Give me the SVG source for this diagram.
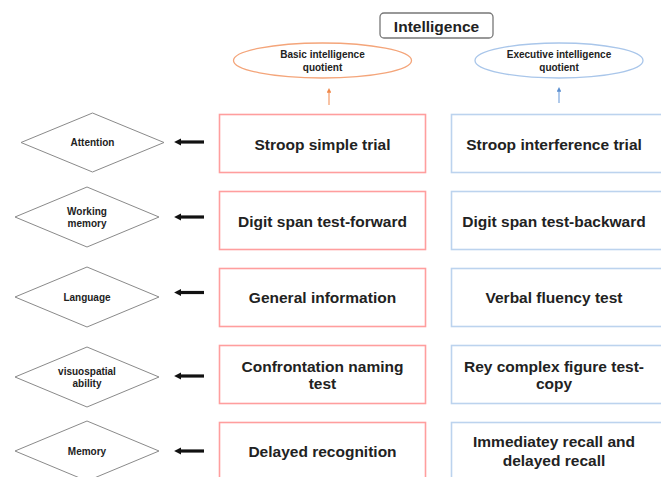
<svg xmlns="http://www.w3.org/2000/svg" width="661" height="477" viewBox="0 0 661 477">
  <style>
    text { font-family: "Liberation Sans", Arial, sans-serif; font-weight: bold; fill: #222; text-anchor: middle; }
    .title { font-size: 15.5px; }
    .quot { font-size: 10px; }
    .dia { fill: #fff; stroke: #8a8a8a; stroke-width: 1; }
    .dlab { font-size: 10px; }
    .basic { fill: #fff; stroke: #ff9e9e; stroke-width: 1.6; }
    .exec { fill: #fff; stroke: #bcd3ee; stroke-width: 1.6; }
    .blab { font-size: 15.5px; }
    .pointer { stroke: #111; stroke-width: 3.2; fill: none; }
  </style>
  <defs>
    <marker id="headBlack" viewBox="0 0 6 6" refX="1" refY="3" markerWidth="2.2" markerHeight="2.2" orient="auto-start-reverse">
      <path d="M0,0 L6,3 L0,6 z" fill="#111"/>
    </marker>
    <marker id="headOrange" viewBox="0 0 6 6" refX="1" refY="3" markerWidth="3" markerHeight="3" orient="auto">
      <path d="M0,0 L6,3 L0,6 z" fill="#f0884a"/>
    </marker>
    <marker id="headBlue" viewBox="0 0 6 6" refX="1" refY="3" markerWidth="3" markerHeight="3" orient="auto">
      <path d="M0,0 L6,3 L0,6 z" fill="#5b8fd0"/>
    </marker>
  </defs>

  <rect width="661" height="477" fill="#fff"/>

  <!-- top level -->
  <g id="intelligence">
    <rect x="380" y="13" width="113" height="25" rx="4" fill="#fff" stroke="#777" stroke-width="1.3"/>
    <text class="title" x="436.5" y="31.5">Intelligence</text>
  </g>
  <g id="basic-iq">
    <ellipse cx="322.5" cy="60.5" rx="89" ry="17.5" fill="#fff" stroke="#f4a57a" stroke-width="1.3"/>
    <text class="quot" x="322.5" y="58">Basic intelligence</text>
    <text class="quot" x="322.5" y="70.5">quotient</text>
  </g>
  <g id="executive-iq">
    <ellipse cx="559" cy="60.5" rx="84" ry="17.5" fill="#fff" stroke="#a9c6ea" stroke-width="1.3"/>
    <text class="quot" x="559" y="58">Executive intelligence</text>
    <text class="quot" x="559" y="70.5">quotient</text>
  </g>

  <!-- cognitive domains -->
  <g id="attention">
    <polygon class="dia" points="21,142.5 92.5,113 164,142.5 92.5,172"/>
    <text class="dlab" x="92.5" y="146">Attention</text>
  </g>
  <g id="working-memory">
    <polygon class="dia" points="15,217 87,187 159,217 87,247"/>
    <text class="dlab" x="87" y="215">Working</text>
    <text class="dlab" x="87" y="227">memory</text>
  </g>
  <g id="language">
    <polygon class="dia" points="15,297 87,267 159,297 87,327"/>
    <text class="dlab" x="87" y="301">Language</text>
  </g>
  <g id="visuospatial">
    <polygon class="dia" points="15,377 87,347 159,377 87,407"/>
    <text class="dlab" x="87" y="375">visuospatial</text>
    <text class="dlab" x="87" y="387">ability</text>
  </g>
  <g id="memory">
    <polygon class="dia" points="15,451 87,421 159,451 87,481"/>
    <text class="dlab" x="87" y="455">Memory</text>
  </g>

  <!-- basic intelligence tests -->
  <g id="stroop-simple">
    <rect class="basic" x="219.5" y="114.5" width="206" height="58"/>
    <text class="blab" x="322.5" y="149.5">Stroop simple trial</text>
  </g>
  <g id="digit-forward">
    <rect class="basic" x="219.5" y="191.5" width="206" height="58"/>
    <text class="blab" x="322.5" y="226.5">Digit span test-forward</text>
  </g>
  <g id="general-information">
    <rect class="basic" x="219.5" y="268.5" width="206" height="58"/>
    <text class="blab" x="322.5" y="303">General information</text>
  </g>
  <g id="confrontation-naming">
    <rect class="basic" x="219.5" y="345.5" width="206" height="58"/>
    <text class="blab" x="322.5" y="371.5">Confrontation naming</text>
    <text class="blab" x="322.5" y="389">test</text>
  </g>
  <g id="delayed-recognition">
    <rect class="basic" x="219.5" y="422.5" width="206" height="58"/>
    <text class="blab" x="322.5" y="457">Delayed recognition</text>
  </g>

  <!-- executive intelligence tests -->
  <g id="stroop-interference">
    <rect class="exec" x="451.5" y="114.5" width="230" height="58"/>
    <text class="blab" x="554" y="149.5">Stroop interference trial</text>
  </g>
  <g id="digit-backward">
    <rect class="exec" x="451.5" y="191.5" width="230" height="58"/>
    <text class="blab" x="554" y="226.5">Digit span test-backward</text>
  </g>
  <g id="verbal-fluency">
    <rect class="exec" x="451.5" y="268.5" width="230" height="58"/>
    <text class="blab" x="554" y="303">Verbal fluency test</text>
  </g>
  <g id="rey-figure">
    <rect class="exec" x="451.5" y="345.5" width="230" height="58"/>
    <text class="blab" x="554" y="371.5">Rey complex figure test-</text>
    <text class="blab" x="554" y="389">copy</text>
  </g>
  <g id="recall">
    <rect class="exec" x="451.5" y="422.5" width="230" height="58"/>
    <text class="blab" x="554" y="447">Immediatey recall and</text>
    <text class="blab" x="554" y="465.5">delayed recall</text>
  </g>

  <!-- connectors -->
  <g id="connectors">
    <line x1="329" y1="105" x2="329" y2="92" stroke="#f7b48f" stroke-width="1.6" marker-end="url(#headOrange)"/>
    <line x1="559" y1="103" x2="559" y2="91" stroke="#9dbde6" stroke-width="1.6" marker-end="url(#headBlue)"/>
    <line class="pointer" x1="204" y1="142" x2="180" y2="142" marker-end="url(#headBlack)"/>
    <line class="pointer" x1="204" y1="217" x2="180" y2="217" marker-end="url(#headBlack)"/>
    <line class="pointer" x1="204" y1="292.5" x2="180" y2="292.5" marker-end="url(#headBlack)"/>
    <line class="pointer" x1="204" y1="376" x2="180" y2="376" marker-end="url(#headBlack)"/>
    <line class="pointer" x1="204" y1="451" x2="180" y2="451" marker-end="url(#headBlack)"/>
  </g>
</svg>
